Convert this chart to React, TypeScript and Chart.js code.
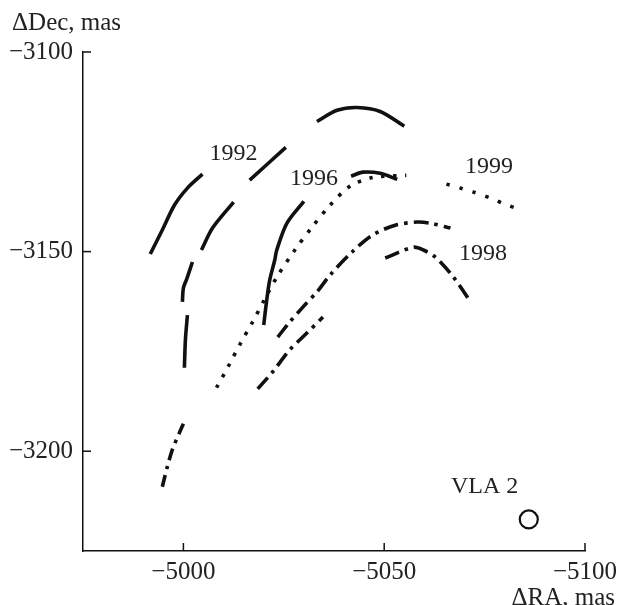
import React, { useEffect, useRef } from 'react';
import { Chart, registerables } from 'chart.js';

Chart.register(...registerables);

// Axis ranges and ticks
const raMin = -5100;
const raMax = -4975;
const decMin = -3225;
const decMax = -3100;
const raTicks = [-5100, -5050, -5000];
const decTicks = [-3200, -3150, -3100];

// Curve A (long dash, outer left) - solid piece
const curveA_RA = [-4991.75, -4994.75, -4997.75, -5001.0, -5004.75];
const curveA_Dec = [-3150.6, -3144.6, -3138.4, -3134.1, -3130.6];

// Curve B (long dashes, big arc) - separate dashes split by null
const curveB_RA = [
  -5000.25, -5000.5, -5001.0, null,
  -4999.75, -5000.0, -5000.75, -5002.25, null,
  -5004.5, -5007.25, -5012.5, null,
  -5016.5, -5025.5, null,
  -5033.25, -5038.25, -5043.25, -5049.0, -5055.0,
];
const curveB_Dec = [
  -3179.1, -3172.1, -3165.9, null,
  -3162.6, -3159.1, -3157.1, -3152.6, null,
  -3149.6, -3144.1, -3137.6, null,
  -3132.1, -3123.9, null,
  -3117.4, -3114.6, -3113.9, -3114.9, -3118.6,
];

// Curve C (1996, solid, interrupted by its label)
const curveC_RA = [-5020.0, -5020.75, -5021.5, -5022.75, -5023.25, -5025.75, -5030.0, null, -5041.75, -5044.75, -5049.0, -5053.25];
const curveC_Dec = [-3168.4, -3162.1, -3157.1, -3152.1, -3149.6, -3142.9, -3137.4, null, -3131.1, -3130.1, -3130.4, -3131.9];

// Curve D (dotted, long rising)
const curveD_RA = [-5008.25, -5011.25, -5014.25, -5017.25, -5020.25, -5023.25, -5027.75, -5032.0, -5036.5, -5041.5, -5047.25, -5055.5];
const curveD_Dec = [-3184.1, -3178.6, -3172.9, -3167.6, -3161.9, -3156.4, -3149.6, -3143.9, -3138.4, -3133.6, -3131.4, -3130.9];

// Curve E (dash-dot, upper)
const curveE_RA = [-5023.5, -5026.5, -5029.75, -5033.25, -5036.5, -5042.0, -5047.0, -5052.75, -5058.25, -5061.5, -5066.5];
const curveE_Dec = [-3171.4, -3167.6, -3163.9, -3160.1, -3155.9, -3150.1, -3145.9, -3143.4, -3142.6, -3142.9, -3144.1];

// Curve F (1998, dash-dot, lower)
const curveF_RA = [-5018.5, -5022.25, -5026.5, -5030.75, -5034.75, null, -5050.25, -5057.25, -5059.75, -5062.75, -5067.25, -5071.5];
const curveF_Dec = [-3184.4, -3180.1, -3174.6, -3170.4, -3166.4, null, -3151.6, -3148.9, -3149.6, -3151.4, -3156.4, -3162.6];

// Curve G (dash-dot fragment, bottom left)
const curveG_RA = [-4994.75, -4996.0, -4997.25, -4999.0, -5000.0];
const curveG_Dec = [-3208.9, -3203.9, -3199.6, -3195.4, -3193.1];

// Curve H (1999, dotted)
const curveH_RA = [-5065.5, -5069.0, -5072.25, -5076.5, -5079.5, -5082.75];
const curveH_Dec = [-3133.1, -3134.1, -3135.1, -3136.6, -3137.9, -3139.1];

// VLA 2 source
const vlaRA = [-5086];
const vlaDec = [-3217.1];

// Text labels in data coordinates
const labelTexts = ['1992', '1996', '1999', '1998', 'VLA 2'];
const labelRA = [-5012.5, -5032.5, -5076.1, -5074.6, -5075.0];
const labelDec = [-3125.6, -3131.75, -3128.75, -3150.5, -3208.9];

const xTitle = '\u0394RA, mas';
const yTitle = '\u0394Dec, mas';

const FONT = '"Liberation Serif", "Times New Roman", serif';
const INK = '#111';

const fmt = (v: number) => (v < 0 ? '\u2212' : '') + Math.abs(v);

const zip = (ra: (number | null)[], dec: (number | null)[]) =>
  ra.map((x, i) => ({ x, y: dec[i] }));

const overlayPlugin = {
  id: 'overlay',
  afterDraw(chart: any) {
    const { ctx, scales, chartArea } = chart;
    const xs = scales.x;
    const ys = scales.y;
    ctx.save();
    ctx.strokeStyle = INK;
    ctx.lineWidth = 1.5;
    // inward ticks
    raTicks.forEach((v) => {
      const px = xs.getPixelForValue(v);
      ctx.beginPath();
      ctx.moveTo(px, chartArea.bottom);
      ctx.lineTo(px, chartArea.bottom - 8);
      ctx.stroke();
    });
    decTicks.forEach((v) => {
      const py = ys.getPixelForValue(v);
      ctx.beginPath();
      ctx.moveTo(chartArea.left, py);
      ctx.lineTo(chartArea.left + 8, py);
      ctx.stroke();
    });
    // text labels
    ctx.fillStyle = '#222';
    ctx.font = `24px ${FONT}`;
    ctx.textAlign = 'center';
    ctx.textBaseline = 'middle';
    labelTexts.forEach((t, i) => {
      ctx.fillText(t, xs.getPixelForValue(labelRA[i]), ys.getPixelForValue(labelDec[i]));
    });
    // axis titles
    ctx.font = `25px ${FONT}`;
    ctx.textBaseline = 'alphabetic';
    ctx.textAlign = 'left';
    ctx.fillText(yTitle, 12, 30);
    ctx.textAlign = 'right';
    ctx.fillText(xTitle, 615, 605);
    ctx.restore();
  },
};

export default function App() {
  const ref = useRef<HTMLCanvasElement | null>(null);

  useEffect(() => {
    if (!ref.current) return;
    const base = {
      borderColor: INK,
      borderWidth: 3.6,
      pointRadius: 0,
      fill: false,
      tension: 0.3,
      spanGaps: false,
      borderCapStyle: 'butt' as const,
      borderJoinStyle: 'round' as const,
    };
    const chart = new Chart(ref.current, {
      type: 'line',
      data: {
        datasets: [
          { ...base, label: 'A', data: zip(curveA_RA, curveA_Dec) },
          { ...base, label: 'B', data: zip(curveB_RA, curveB_Dec) },
          { ...base, label: 'C', data: zip(curveC_RA, curveC_Dec) },
          { ...base, label: 'D', data: zip(curveD_RA, curveD_Dec), borderDash: [3.5, 8.5] },
          { ...base, label: 'E', data: zip(curveE_RA, curveE_Dec), borderDash: [15, 6, 3.5, 6] },
          { ...base, label: 'F', data: zip(curveF_RA, curveF_Dec), borderDash: [15, 6, 3.5, 6] },
          { ...base, label: 'G', data: zip(curveG_RA, curveG_Dec), borderDash: [12, 6, 3.5, 6] },
          { ...base, label: 'H', data: zip(curveH_RA, curveH_Dec), borderDash: [3.5, 10] },
          {
            label: 'VLA 2',
            data: zip(vlaRA, vlaDec),
            showLine: false,
            pointRadius: 9,
            pointHoverRadius: 9,
            pointBorderWidth: 2.2,
            pointBorderColor: INK,
            pointBackgroundColor: 'rgba(0,0,0,0)',
            borderColor: INK,
          },
        ] as any,
      },
      options: {
        animation: false,
        responsive: false,
        events: [],
        layout: { padding: { top: 52, right: 34, left: 0, bottom: 0 } },
        plugins: {
          legend: { display: false },
          tooltip: { enabled: false },
          title: { display: false },
        },
        scales: {
          x: {
            type: 'linear',
            min: raMin,
            max: raMax,
            reverse: true,
            grid: { display: false, drawTicks: false },
            border: { display: true, color: INK, width: 1.5 },
            afterBuildTicks: (s: any) => {
              s.ticks = raTicks.map((v) => ({ value: v }));
            },
            afterFit: (s: any) => {
              s.height = 54;
            },
            ticks: {
              padding: 6,
              color: '#222',
              maxRotation: 0,
              autoSkip: false,
              font: { family: FONT, size: 25 },
              callback: (v: any) => fmt(Number(v)),
            },
          },
          y: {
            type: 'linear',
            min: decMin,
            max: decMax,
            grid: { display: false, drawTicks: false },
            border: { display: true, color: INK, width: 1.5 },
            afterBuildTicks: (s: any) => {
              s.ticks = decTicks.map((v) => ({ value: v }));
            },
            afterFit: (s: any) => {
              s.width = 83;
            },
            ticks: {
              padding: 10,
              color: '#222',
              autoSkip: false,
              font: { family: FONT, size: 25 },
              callback: (v: any) => fmt(Number(v)),
            },
          },
        },
      } as any,
      plugins: [overlayPlugin],
    });
    return () => chart.destroy();
  }, []);

  return (
    <div style={{ position: 'fixed', left: 0, top: 0, width: 619, height: 605, background: '#fff' }}>
      <canvas ref={ref} width={619} height={605} style={{ width: 619, height: 605 }} />
    </div>
  );
}
